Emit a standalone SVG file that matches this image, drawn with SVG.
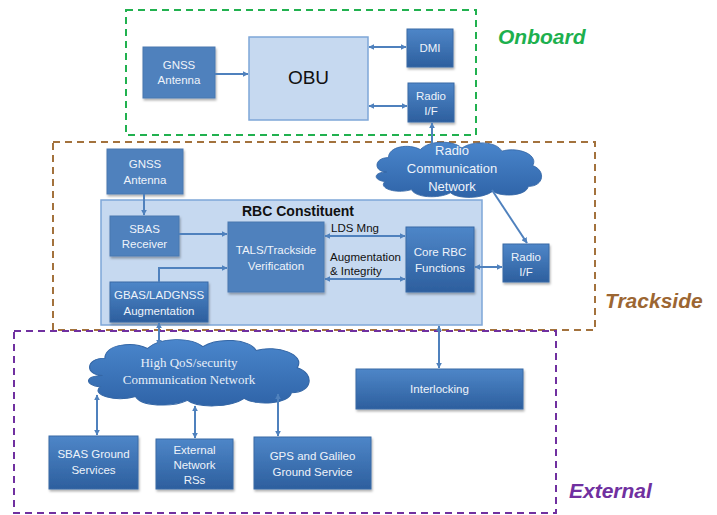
<svg xmlns="http://www.w3.org/2000/svg" xmlns:xlink="http://www.w3.org/1999/xlink" width="717" height="515" viewBox="0 0 717 515">
<defs>
<linearGradient id="gBlue" x1="0" y1="0" x2="0" y2="1">
<stop offset="0" stop-color="#4e86c8"/>
<stop offset="1" stop-color="#2d5f9e"/>
</linearGradient>
<linearGradient id="gCloud" x1="0" y1="0" x2="0" y2="1">
<stop offset="0" stop-color="#4a86cc"/>
<stop offset="1" stop-color="#2f64a8"/>
</linearGradient>
<filter id="sh" x="-10%" y="-10%" width="130%" height="130%">
<feDropShadow dx="1" dy="2" stdDeviation="1.2" flood-color="#000" flood-opacity="0.3"/>
</filter>
<marker id="ah" viewBox="0 0 10 10" refX="9" refY="5" markerWidth="6" markerHeight="6" orient="auto-start-reverse" markerUnits="userSpaceOnUse">
<path d="M0,0 L10,5 L0,10 z" fill="#4f81bd"/>
</marker>
<path id="cloud" d="M20,40 C5,40 5,22 22,22 C22,8 45,4 58,12 C68,0 95,0 105,10 C118,0 145,2 150,14 C168,8 192,18 185,32 C200,38 198,58 180,58 C178,70 150,72 140,64 C128,74 100,74 92,66 C78,74 52,72 48,62 C30,68 10,60 18,52 C4,50 5,40 20,40 Z"/>
</defs>
<style>
.node{fill:url(#gBlue);stroke:#3a6aa6;stroke-width:1;filter:url(#sh)}
.flat{fill:#4f81bd;stroke:#4a78b0;stroke-width:1;filter:url(#sh)}
.light{fill:#c6d9f0;stroke:#7ea6d8;stroke-width:1.5}
.t{font-family:"Liberation Sans",Arial,sans-serif;font-size:11.5px;fill:#eef3fa;text-anchor:middle}
.tc{font-family:"Liberation Sans",Arial,sans-serif;font-size:13px;fill:#eef3fa;text-anchor:middle}
.tb{font-family:"Liberation Sans",Arial,sans-serif;font-size:11.5px;fill:#111;}
.title{font-family:"Liberation Sans",Arial,sans-serif;font-size:14px;font-weight:bold;fill:#111;text-anchor:middle}
.serif{font-family:"Liberation Serif","Times New Roman",serif;font-size:13px;fill:#e6eef8;text-anchor:middle}
.conn line,.conn path{stroke:#4f81bd;stroke-width:2;fill:none}
.zone{fill:none;stroke-width:2;stroke-dasharray:7,5}
.zl{font-family:"Liberation Sans",Arial,sans-serif;font-size:21px;font-weight:bold;font-style:italic}
.cl{fill:url(#gCloud);stroke:#3567a6;stroke-width:1}
</style>
<rect width="717" height="515" fill="#fff"/>

<g id="zones">
<rect class="zone" x="126" y="10" width="350" height="125" stroke="#21b14f"/>
<rect class="zone" x="53" y="142" width="542" height="188" stroke="#a3723d"/>
<rect class="zone" x="14" y="331" width="542" height="182" stroke="#7030a0"/>
<text class="zl" x="498" y="44" fill="#1db04e">Onboard</text>
<text class="zl" x="605" y="308" fill="#9c6632">Trackside</text>
<text class="zl" x="569" y="498" fill="#7030a0">External</text>
</g>

<g id="rbc-constituent">
<rect class="light" x="101" y="200" width="381" height="125"/>
<text class="title" x="298" y="216">RBC Constituent</text>
</g>

<g id="onboard-gnss">
<rect class="flat" x="143" y="47" width="72" height="51"/>
<text class="t" x="179" y="69">GNSS</text>
<text class="t" x="179" y="84">Antenna</text>
</g>
<g id="obu">
<rect class="light" x="249" y="37" width="119" height="83"/>
<text x="308.5" y="84" font-family="Liberation Sans,Arial,sans-serif" font-size="19" text-anchor="middle" fill="#111">OBU</text>
</g>
<g id="dmi">
<rect class="node" x="407" y="29" width="46" height="38"/>
<text class="t" x="430" y="52">DMI</text>
</g>
<g id="onboard-radio">
<rect class="node" x="408" y="83" width="46" height="39"/>
<text class="t" x="431" y="100">Radio</text>
<text class="t" x="431" y="115">I/F</text>
</g>

<g id="radio-network">
<use xlink:href="#cloud" href="#cloud" class="cl" transform="translate(369,140) scale(0.885,0.8)"/>
<text class="tc" x="452" y="155">Radio</text>
<text class="tc" x="452" y="173">Communication</text>
<text class="tc" x="452" y="191">Network</text>
</g>

<g id="trackside-gnss">
<rect class="flat" x="107" y="149" width="76" height="45"/>
<text class="t" x="145" y="168">GNSS</text>
<text class="t" x="145" y="184">Antenna</text>
</g>
<g id="sbas-receiver">
<rect class="flat" x="110" y="216" width="69" height="40"/>
<text class="t" x="144.5" y="233">SBAS</text>
<text class="t" x="144.5" y="248">Receiver</text>
</g>
<g id="tals">
<rect class="flat" x="228" y="222" width="96" height="70"/>
<text class="t" x="276" y="254">TALS/Trackside</text>
<text class="t" x="276" y="270">Verification</text>
</g>
<g id="gbas">
<rect class="node" x="110" y="282" width="98" height="40"/>
<text class="t" x="159" y="299">GBAS/LADGNSS</text>
<text class="t" x="159" y="315">Augmentation</text>
</g>
<g id="core-rbc">
<rect class="node" x="406" y="227" width="68" height="65"/>
<text class="t" x="440" y="256">Core RBC</text>
<text class="t" x="440" y="272">Functions</text>
</g>
<g id="trackside-radio">
<rect class="node" x="503" y="244" width="46" height="38"/>
<text class="t" x="526" y="261">Radio</text>
<text class="t" x="526" y="276">I/F</text>
</g>

<g id="qos-network">
<use xlink:href="#cloud" href="#cloud" class="cl" transform="translate(79,337) scale(1.18,0.96)"/>
<text class="serif" x="189" y="367">High QoS/security</text>
<text class="serif" x="189" y="384">Communication Network</text>
</g>
<g id="interlocking">
<rect class="node" x="356" y="369" width="167" height="40"/>
<text class="t" x="439.5" y="393">Interlocking</text>
</g>
<g id="sbas-ground">
<rect class="node" x="49" y="436" width="89" height="53"/>
<text class="t" x="93.5" y="458">SBAS Ground</text>
<text class="t" x="93.5" y="474">Services</text>
</g>
<g id="external-network">
<rect class="node" x="156" y="439" width="77" height="50"/>
<text class="t" x="194.5" y="454">External</text>
<text class="t" x="194.5" y="469">Network</text>
<text class="t" x="194.5" y="484">RSs</text>
</g>
<g id="gps-galileo">
<rect class="node" x="254" y="437" width="117" height="52"/>
<text class="t" x="312.5" y="460">GPS and Galileo</text>
<text class="t" x="312.5" y="476">Ground Service</text>
</g>

<g id="connectors" class="conn">
<line x1="215" y1="74" x2="248" y2="74" marker-end="url(#ah)"/>
<line x1="369" y1="47" x2="406" y2="47" marker-start="url(#ah)" marker-end="url(#ah)"/>
<line x1="369" y1="106" x2="407" y2="106" marker-start="url(#ah)" marker-end="url(#ah)"/>
<line x1="432" y1="148" x2="432" y2="123" marker-end="url(#ah)"/>
<line x1="144" y1="194" x2="144" y2="215" marker-end="url(#ah)"/>
<line x1="179" y1="234" x2="227" y2="234" marker-end="url(#ah)"/>
<path d="M159,282 V268 H227" marker-end="url(#ah)"/>
<line x1="325" y1="236" x2="405" y2="236" marker-start="url(#ah)" marker-end="url(#ah)"/>
<line x1="325" y1="279" x2="405" y2="279" marker-start="url(#ah)" marker-end="url(#ah)"/>
<line x1="475" y1="267" x2="502" y2="267" marker-start="url(#ah)" marker-end="url(#ah)"/>
<line x1="492" y1="190" x2="527" y2="243" marker-end="url(#ah)"/>
<line x1="159" y1="323" x2="159" y2="345" marker-start="url(#ah)" marker-end="url(#ah)"/>
<line x1="439" y1="326" x2="439" y2="368" marker-start="url(#ah)" marker-end="url(#ah)"/>
<line x1="97" y1="395" x2="97" y2="435" marker-start="url(#ah)" marker-end="url(#ah)"/>
<line x1="195" y1="406" x2="195" y2="438" marker-start="url(#ah)" marker-end="url(#ah)"/>
<line x1="278" y1="394" x2="278" y2="436" marker-start="url(#ah)" marker-end="url(#ah)"/>
<text class="tb" x="331" y="232" stroke="none">LDS Mng</text>
<text class="tb" x="330" y="261" stroke="none">Augmentation</text>
<text class="tb" x="330" y="275" stroke="none">&amp; Integrity</text>
</g>
</svg>
